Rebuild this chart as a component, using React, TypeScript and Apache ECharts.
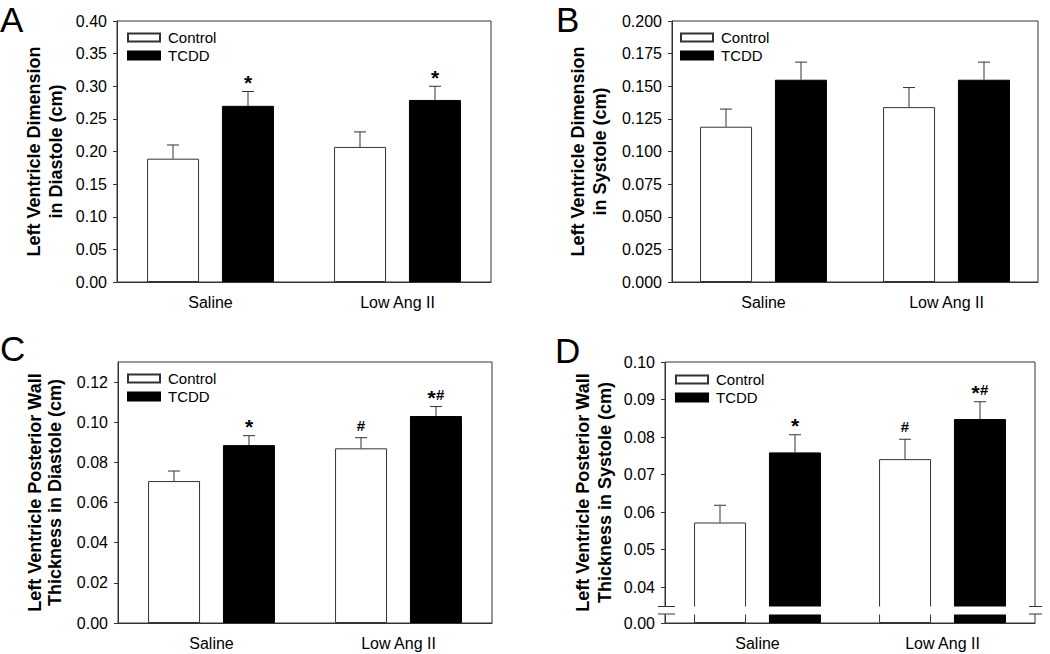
import React, { useEffect, useRef } from 'react';
import * as echarts from 'echarts';

const categories = ['Saline', 'Low Ang II'];
const seriesNames = ['Control', 'TCDD'];

// Panel A: LV dimension in diastole (cm)
const aControl = [0.189, 0.207];
const aControlSem = [0.021, 0.023];
const aTcdd = [0.27, 0.279];
const aTcddSem = [0.022, 0.021];
const aControlMarks = ['', ''];
const aTcddMarks = ['*', '*'];

// Panel B: LV dimension in systole (cm)
const bControl = [0.119, 0.134];
const bControlSem = [0.0135, 0.015];
const bTcdd = [0.155, 0.155];
const bTcddSem = [0.0135, 0.0135];
const bControlMarks = ['', ''];
const bTcddMarks = ['', ''];

// Panel C: LV posterior wall thickness in diastole (cm)
const cControl = [0.0707, 0.087];
const cControlSem = [0.005, 0.0053];
const cTcdd = [0.0886, 0.1031];
const cTcddSem = [0.0047, 0.0047];
const cControlMarks = ['', '#'];
const cTcddMarks = ['*', '*#'];

// Panel D: LV posterior wall thickness in systole (cm)
const dControl = [0.0572, 0.0741];
const dControlSem = [0.0046, 0.0053];
const dTcdd = [0.0759, 0.0848];
const dTcddSem = [0.0047, 0.0046];
const dControlMarks = ['', '#'];
const dTcddMarks = ['*', '*#'];

const aTicks = [0, 0.05, 0.1, 0.15, 0.2, 0.25, 0.3, 0.35, 0.4];
const bTicks = [0, 0.025, 0.05, 0.075, 0.1, 0.125, 0.15, 0.175, 0.2];
const cTicks = [0, 0.02, 0.04, 0.06, 0.08, 0.1, 0.12];
const dTicks = [0, 0.04, 0.05, 0.06, 0.07, 0.08, 0.09, 0.1];
const dBreak = { start: 0.0024, end: 0.0348 };

const FONT = '"Liberation Sans", Arial, Helvetica, sans-serif';
const AXIS_COLOR = '#333';
const BAR_W = 52;
const BAR_OFFSET = 37.5;

type Panel = {
  letter: string;
  titleLines: string[];
  control: number[];
  controlSem: number[];
  tcdd: number[];
  tcddSem: number[];
  controlMarks: string[];
  tcddMarks: string[];
  ticks: number[];
  max: number;
  digits: number;
  grid: { left: number; top: number; width: number; height: number };
  titleX: number[];
  legend: { left: number; top: number };
  letterPos: { x: number; y: number };
  breakAxis?: boolean;
};

const panels: Panel[] = [
  {
    letter: 'A',
    titleLines: ['Left Ventricle Dimension', 'in Diastole (cm)'],
    control: aControl, controlSem: aControlSem, tcdd: aTcdd, tcddSem: aTcddSem,
    controlMarks: aControlMarks, tcddMarks: aTcddMarks,
    ticks: aTicks, max: 0.4, digits: 2,
    grid: { left: 117, top: 21, width: 374, height: 261 },
    titleX: [34, 56],
    legend: { left: 127, top: 30 },
    letterPos: { x: 0, y: 2 },
  },
  {
    letter: 'B',
    titleLines: ['Left Ventricle Dimension', 'in Systole (cm)'],
    control: bControl, controlSem: bControlSem, tcdd: bTcdd, tcddSem: bTcddSem,
    controlMarks: bControlMarks, tcddMarks: bTcddMarks,
    ticks: bTicks, max: 0.2, digits: 3,
    grid: { left: 672, top: 21, width: 366, height: 261 },
    titleX: [578, 600],
    legend: { left: 680, top: 30 },
    letterPos: { x: 556, y: 2 },
  },
  {
    letter: 'C',
    titleLines: ['Left Ventricle Posterior Wall', 'Thickness in Diastole (cm)'],
    control: cControl, controlSem: cControlSem, tcdd: cTcdd, tcddSem: cTcddSem,
    controlMarks: cControlMarks, tcddMarks: cTcddMarks,
    ticks: cTicks, max: 0.13, digits: 2,
    grid: { left: 118, top: 362, width: 374, height: 261 },
    titleX: [34.5, 55],
    legend: { left: 127, top: 371 },
    letterPos: { x: 0, y: 331 },
  },
  {
    letter: 'D',
    titleLines: ['Left Ventricle Posterior Wall', 'Thickness in Systole (cm)'],
    control: dControl, controlSem: dControlSem, tcdd: dTcdd, tcddSem: dTcddSem,
    controlMarks: dControlMarks, tcddMarks: dTcddMarks,
    ticks: dTicks, max: 0.1, digits: 2,
    grid: { left: 665, top: 362, width: 370, height: 261 },
    titleX: [582.5, 604.5],
    legend: { left: 675, top: 372 },
    letterPos: { x: 555, y: 333 },
    breakAxis: true,
  },
];

function markElements(mark: string, x: number, yTop: number): any[] {
  const chars = mark.split('');
  const widths = chars.map((c) => (c === '*' ? 8.5 : 9));
  const total = widths.reduce((s, w) => s + w, 0);
  let cx = x - total / 2;
  return chars.map((c, k) => {
    const center = cx + widths[k] / 2;
    cx += widths[k];
    const star = c === '*';
    return {
      type: 'text',
      style: {
        text: c, x: center, y: star ? yTop - 9 : yTop - 12.5,
        align: 'center', verticalAlign: 'middle',
        font: star ? `bold 21px ${FONT}` : `bold 15px ${FONT}`, fill: '#000',
      },
    };
  });
}

function errorRender(offset: number, marks: string[]) {
  return (params: any, api: any) => {
    const cat = api.value(0);
    const val = api.value(1);
    const sem = api.value(2);
    const base = api.coord([cat, val]);
    const top = api.coord([cat, val + sem]);
    const x = base[0] + offset;
    const children: any[] = [
      { type: 'line', shape: { x1: x, y1: base[1], x2: x, y2: top[1] }, style: { stroke: AXIS_COLOR, lineWidth: 1 } },
      { type: 'line', shape: { x1: x - 6, y1: top[1], x2: x + 6, y2: top[1] }, style: { stroke: AXIS_COLOR, lineWidth: 1 } },
    ];
    const mark = marks[params.dataIndex];
    if (mark) children.push(...markElements(mark, x, top[1]));
    return { type: 'group', children };
  };
}

export default function App() {
  const ref = useRef<HTMLDivElement>(null);
  useEffect(() => {
    document.body.style.margin = '0';
    if (!ref.current) return;
    const chart = echarts.init(ref.current, undefined, { renderer: 'svg' });

    const grid: any[] = [];
    const xAxis: any[] = [];
    const yAxis: any[] = [];
    const legend: any[] = [];
    const series: any[] = [];
    const graphic: any[] = [];

    panels.forEach((p, i) => {
      grid.push({ ...p.grid, show: true, borderColor: AXIS_COLOR, borderWidth: 1, backgroundColor: 'transparent' });
      xAxis.push({
        type: 'category', gridIndex: i, data: categories,
        axisLine: { lineStyle: { color: AXIS_COLOR } },
        axisTick: { alignWithLabel: true, length: 4, lineStyle: { color: AXIS_COLOR } },
        axisLabel: { color: '#000', fontSize: 16, fontFamily: FONT, margin: 12 },
        splitLine: { show: false },
      });
      const y: any = {
        type: 'value', gridIndex: i, min: 0, max: p.max,
        axisLine: { show: true, lineStyle: { color: AXIS_COLOR } },
        axisTick: { show: true, length: 4, lineStyle: { color: AXIS_COLOR }, customValues: p.ticks },
        axisLabel: {
          color: '#000', fontSize: 16, fontFamily: FONT, margin: 10,
          customValues: p.ticks,
          formatter: (v: number) => v.toFixed(p.digits),
        },
        splitLine: { show: false },
      };
      if (p.breakAxis) {
        y.breaks = [{ start: dBreak.start, end: dBreak.end, gap: 0.002 }];
        y.breakArea = {
          show: true, expandOnClick: false, zigzagAmplitude: 0,
          itemStyle: { color: '#fff', borderWidth: 0, opacity: 1 },
        };
      }
      yAxis.push(y);

      legend.push({
        left: p.legend.left, top: p.legend.top, orient: 'vertical', padding: 0,
        itemWidth: 32, itemHeight: 8, itemGap: 3, icon: 'rect', selectedMode: false,
        data: seriesNames,
        textStyle: { color: '#000', fontSize: 15, fontFamily: FONT, padding: [0, 0, 0, 3] },
      });

      series.push({
        type: 'bar', name: seriesNames[0], xAxisIndex: i, yAxisIndex: i,
        data: p.control, barWidth: BAR_W, barGap: '44%',
        itemStyle: { color: '#fff', borderColor: AXIS_COLOR, borderWidth: 1 },
      });
      series.push({
        type: 'bar', name: seriesNames[1], xAxisIndex: i, yAxisIndex: i,
        data: p.tcdd, barWidth: BAR_W, barGap: '44%',
        itemStyle: { color: '#000', borderColor: '#000', borderWidth: 1 },
      });
      series.push({
        type: 'custom', name: `err-control-${p.letter}`, xAxisIndex: i, yAxisIndex: i, z: 5,
        data: p.control.map((v, k) => [k, v, p.controlSem[k]]),
        encode: { x: 0, y: 1 },
        renderItem: errorRender(-BAR_OFFSET, p.controlMarks),
      });
      series.push({
        type: 'custom', name: `err-tcdd-${p.letter}`, xAxisIndex: i, yAxisIndex: i, z: 5,
        data: p.tcdd.map((v, k) => [k, v, p.tcddSem[k]]),
        encode: { x: 0, y: 1 },
        renderItem: errorRender(BAR_OFFSET, p.tcddMarks),
      });

      graphic.push({
        type: 'text', left: p.letterPos.x, top: p.letterPos.y,
        style: { text: p.letter, font: `35px ${FONT}`, fill: '#000' },
      });
      const cy = p.grid.top + p.grid.height / 2;
      p.titleLines.forEach((line, k) => {
        graphic.push({
          type: 'text', x: p.titleX[k], y: cy, rotation: Math.PI / 2,
          style: {
            text: line, x: 0, y: 0, align: 'center', verticalAlign: 'middle',
            font: `bold 18px ${FONT}`, fill: '#000',
          },
        });
      });
    });

    chart.setOption({
      animation: false,
      backgroundColor: '#fff',
      grid, xAxis, yAxis, legend, series, graphic,
    });

    // axis break marks for panel D
    const di = panels.findIndex((p) => p.breakAxis);
    if (di >= 0) {
      const g = panels[di].grid;
      const y1 = chart.convertToPixel({ yAxisIndex: di } as any, dBreak.end) as unknown as number;
      const y2 = chart.convertToPixel({ yAxisIndex: di } as any, dBreak.start) as unknown as number;
      if (isFinite(y1) && isFinite(y2)) {
        const xl = g.left;
        const xr = g.left + g.width;
        const ln = (xa: number, xb: number, yy: number) => ({
          type: 'line', shape: { x1: xa, y1: yy, x2: xb, y2: yy },
          style: { stroke: AXIS_COLOR, lineWidth: 1 }, z: 200,
        });
        chart.setOption({
          graphic: [
            ...graphic,
            { type: 'rect', shape: { x: xl - 1, y: y1, width: 3, height: y2 - y1 }, style: { fill: '#fff' }, z: 199 },
            { type: 'rect', shape: { x: xr - 2, y: y1, width: 3, height: y2 - y1 }, style: { fill: '#fff' }, z: 199 },
            ln(xl - 7, xl + 10, y1), ln(xl - 7, xl + 10, y2),
            ln(xr - 6, xr + 7, y1), ln(xr - 6, xr + 7, y2),
          ],
        });
      }
    }

    return () => chart.dispose();
  }, []);
  return <div ref={ref} style={{ width: 1050, height: 654 }} />;
}
